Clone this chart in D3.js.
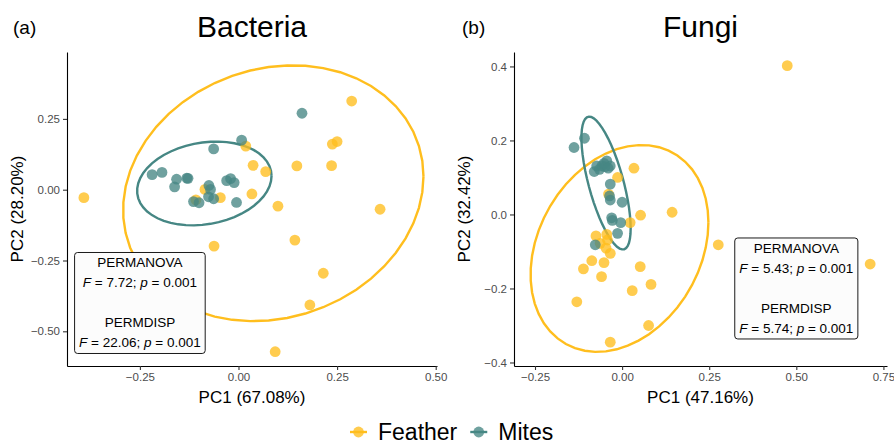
<!DOCTYPE html>
<html><head><meta charset="utf-8">
<script src="https://cdn.jsdelivr.net/npm/d3@7"></script>
<style>
body{margin:0;background:#fff;}
text{font-family:"Liberation Sans",Arial,sans-serif;}
</style></head>
<body><svg id="chart" width="894" height="445"></svg>
<script>
// ---- data (PC1, PC2) ----
const bacteriaFeather = [[-0.392,-0.028],[0.287,0.313],[0.238,0.161],[0.250,0.170],[0.0185,0.154],[0.037,0.086],[0.069,0.064],[0.148,0.084],[0.236,0.085],[0.034,-0.015],[0.100,-0.058],[0.359,-0.069],[0.143,-0.178],[-0.062,-0.199],[0.215,-0.295],[0.181,-0.407],[0.093,-0.572],[-0.085,0.001],[-0.108,-0.036],[-0.046,-0.028]];
const bacteriaMites = [[0.161,0.270],[0.008,0.175],[-0.063,0.144],[-0.219,0.053],[-0.194,0.061],[-0.157,0.037],[-0.162,0.010],[-0.131,0.041],[-0.128,0.040],[-0.075,0.015],[-0.071,0.001],[-0.076,-0.025],[-0.063,-0.032],[-0.114,-0.042],[-0.100,-0.046],[-0.030,0.032],[-0.020,0.039],[-0.011,0.025],[-0.005,-0.045]];
const fungiFeather = [[0.474,0.402],[0.712,-0.134],[0.276,-0.082],[0.1435,0.006],[0.053,-0.002],[0.034,0.125],[-0.013,0.100],[-0.039,0.055],[0.023,-0.022],[-0.075,-0.058],[-0.044,-0.054],[-0.042,-0.069],[-0.063,-0.078],[-0.046,-0.091],[-0.034,-0.105],[-0.087,-0.125],[-0.111,-0.147],[-0.052,-0.130],[-0.059,-0.168],[0.052,-0.141],[0.083,-0.189],[0.029,-0.206],[-0.130,-0.236],[0.076,-0.300],[-0.034,-0.345]];
const fungiMites = [[-0.138,0.181],[-0.108,0.206],[-0.080,0.116],[-0.073,0.131],[-0.058,0.131],[-0.044,0.145],[-0.049,0.129],[-0.034,0.131],[-0.065,0.122],[-0.052,0.138],[-0.040,0.125],[-0.034,0.082],[-0.036,0.050],[-0.034,0.039],[0.000,0.033],[-0.030,-0.009],[-0.028,-0.016],[-0.004,-0.022],[-0.013,-0.051],[-0.077,-0.082]];
const groups = ["Feather","Mites"];
const bacteriaXTicks = [-0.25,0,0.25,0.5];
const bacteriaYTicks = [-0.5,-0.25,0,0.25];
const fungiXTicks = [-0.25,0,0.25,0.5,0.75];
const fungiYTicks = [-0.4,-0.2,0,0.2,0.4];
const bacteriaStats = ["PERMANOVA","F = 7.72; p = 0.001","","PERMDISP","F = 22.06; p = 0.001"];
const fungiStats = ["PERMANOVA","F = 5.43; p = 0.001","","PERMDISP","F = 5.74; p = 0.001"];

const colors = {Feather:"#FFBE1E", Mites:"#468784"};
const svg = d3.select("#chart");

// robust t covariance (MASS::cov.trob) + ellipse as in ggplot2 stat_ellipse
function covTrob(pts, nu=5, maxit=25, tol=0.01){
  const n=pts.length, p=2;
  let loc=[d3.mean(pts,d=>d[0]), d3.mean(pts,d=>d[1])];
  let w=pts.map(()=>1), X;
  for(let it=0; it<maxit; it++){
    const w0=w.slice();
    X=pts.map(d=>[d[0]-loc[0], d[1]-loc[1]]);
    const sw=d3.sum(w);
    let a=0,b=0,c=0;
    X.forEach((x,i)=>{a+=w[i]*x[0]*x[0]/sw; b+=w[i]*x[0]*x[1]/sw; c+=w[i]*x[1]*x[1]/sw;});
    const det=a*c-b*b;
    const Q=X.map(x=>(c*x[0]*x[0]-2*b*x[0]*x[1]+a*x[1]*x[1])/det);
    w=Q.map(q=>(nu+p)/(nu+q));
    const sw2=d3.sum(w);
    loc=[d3.sum(pts,(d,i)=>w[i]*d[0])/sw2, d3.sum(pts,(d,i)=>w[i]*d[1])/sw2];
    if(w.every((v,i)=>Math.abs(v-w0[i])<tol)) break;
  }
  let a=0,b=0,c=0;
  X.forEach((x,i)=>{a+=w[i]*x[0]*x[0]; b+=w[i]*x[0]*x[1]; c+=w[i]*x[1]*x[1];});
  return {center:loc, cov:[a/n,b/n,c/n]};
}
function ellipsePts(pts, level=0.95, seg=51){
  const {center,cov}=covTrob(pts);
  const dfd=pts.length-1;
  const qf=dfd/2*(Math.pow(1-level,-2/dfd)-1);
  const r=Math.sqrt(2*qf);
  const R11=Math.sqrt(cov[0]), R12=cov[1]/R11, R22=Math.sqrt(cov[2]-R12*R12);
  const out=[];
  for(let k=0;k<=seg;k++){
    const t=k*2*Math.PI/seg, cs=Math.cos(t), sn=Math.sin(t);
    out.push([center[0]+r*cs*R11, center[1]+r*(cs*R12+sn*R22)]);
  }
  return out;
}

function fmt(dec){ return v => { const s=Math.abs(v).toFixed(dec); return (v<-1e-9?"\u2212":"")+s; }; }

function panel(cfg){
  const g=svg.append("g");
  const x=d3.scaleLinear().domain(cfg.xd).range([cfg.x0,cfg.x1]);
  const y=d3.scaleLinear().domain(cfg.yd).range([cfg.y1,cfg.y0]);
  const data={Feather:cfg.feather, Mites:cfg.mites};
  const line=d3.line().x(d=>x(d[0])).y(d=>y(d[1]));
  groups.forEach(gn=>{
    g.append("path").attr("d",line(ellipsePts(data[gn]))).attr("fill","none")
     .attr("stroke",colors[gn]).attr("stroke-width",2.4);
  });
  groups.forEach(gn=>{
    g.selectAll(null).data(data[gn]).enter().append("circle")
     .attr("cx",d=>x(d[0])).attr("cy",d=>y(d[1])).attr("r",5.4)
     .attr("fill",colors[gn]).attr("fill-opacity",0.78);
  });
  const xa=g.append("g").attr("transform",`translate(0,${cfg.y1})`)
    .call(d3.axisBottom(x).tickValues(cfg.xt).tickFormat(fmt(2)).tickSize(4).tickSizeOuter(0).tickPadding(3));
  const ya=g.append("g").attr("transform",`translate(${cfg.x0},0)`)
    .call(d3.axisLeft(y).tickValues(cfg.yt).tickFormat(fmt(cfg.yDec)).tickSize(4).tickSizeOuter(0).tickPadding(3));
  [xa,ya].forEach(a=>{
    a.select(".domain").attr("stroke","#000").attr("stroke-width",1.1);
    a.selectAll(".tick line").attr("stroke","#333").attr("stroke-width",1.1);
    a.selectAll(".tick text").attr("fill","#4D4D4D").style("font-size","11.5px").style("font-family","Liberation Sans, Arial, sans-serif");
  });
  const cx=(cfg.x0+cfg.x1)/2, cy=(cfg.y0+cfg.y1)/2;
  g.append("text").attr("x",cx).attr("y",cfg.y1+37).attr("text-anchor","middle")
    .style("font-size","17px").text(cfg.xlab);
  g.append("text").attr("transform",`translate(${cfg.x0-44},${cy}) rotate(-90)`).attr("text-anchor","middle")
    .style("font-size","17px").text(cfg.ylab);
  g.append("text").attr("x",cx).attr("y",37).attr("text-anchor","middle").style("font-size","30px").text(cfg.title);
  g.append("text").attr("x",cfg.tagX).attr("y",34).style("font-size","19px").text(cfg.tag);
  const lx=x(cfg.lab[0]), ly=y(cfg.lab[1]);
  const lg=g.append("g");
  const lh=20;
  const n=cfg.stats.length;
  const tg=lg.append("g");
  cfg.stats.forEach((s,i)=>{
    const t=tg.append("text").attr("x",lx).attr("y",ly+(i-(n-1)/2)*lh+4.5).attr("text-anchor","middle").style("font-size","13.5px");
    const m=s.match(/^F = (.*); p = (.*)$/);
    if(m){
      t.append("tspan").style("font-style","italic").text("F");
      t.append("tspan").text(" = "+m[1]+"; ");
      t.append("tspan").style("font-style","italic").text("p");
      t.append("tspan").text(" = "+m[2]);
    } else t.text(s);
  });
  const bb=tg.node().getBBox();
  lg.insert("rect","g").attr("x",bb.x-4.5).attr("y",ly-50.5).attr("width",bb.width+9).attr("height",101)
    .attr("rx",3).attr("fill","#FCFCFC").attr("stroke","#000").attr("stroke-width",0.9);
}

panel({x0:67,x1:437,y0:52,y1:366,xd:[-0.4348,0.5033],yd:[-0.6225,0.4862],xt:bacteriaXTicks,yt:bacteriaYTicks,yDec:2,
  feather:bacteriaFeather,mites:bacteriaMites,xlab:"PC1 (67.08%)",ylab:"PC2 (28.20%)",title:"Bacteria",tag:"(a)",tagX:13,
  lab:[-0.25,-0.40],stats:bacteriaStats});
panel({x0:514,x1:887,y0:52,y1:366,xd:[-0.3103,0.7603],yd:[-0.4095,0.439],xt:fungiXTicks,yt:fungiYTicks,yDec:1,
  feather:fungiFeather,mites:fungiMites,xlab:"PC1 (47.16%)",ylab:"PC2 (32.42%)",title:"Fungi",tag:"(b)",tagX:462,
  lab:[0.5,-0.20],stats:fungiStats});

// legend
const leg=svg.append("g");
let lxp=350;
groups.forEach(gn=>{
  const it=leg.append("g");
  it.append("line").attr("x1",lxp).attr("x2",lxp+17).attr("y1",432).attr("y2",432).attr("stroke",colors[gn]).attr("stroke-width",2.4);
  it.append("circle").attr("cx",lxp+8.5).attr("cy",432).attr("r",5.4).attr("fill",colors[gn]).attr("fill-opacity",0.78);
  const t=it.append("text").attr("x",lxp+28).attr("y",440).style("font-size","23px").text(gn);
  lxp += 28 + t.node().getComputedTextLength() + 13;
});
</script></body></html>
